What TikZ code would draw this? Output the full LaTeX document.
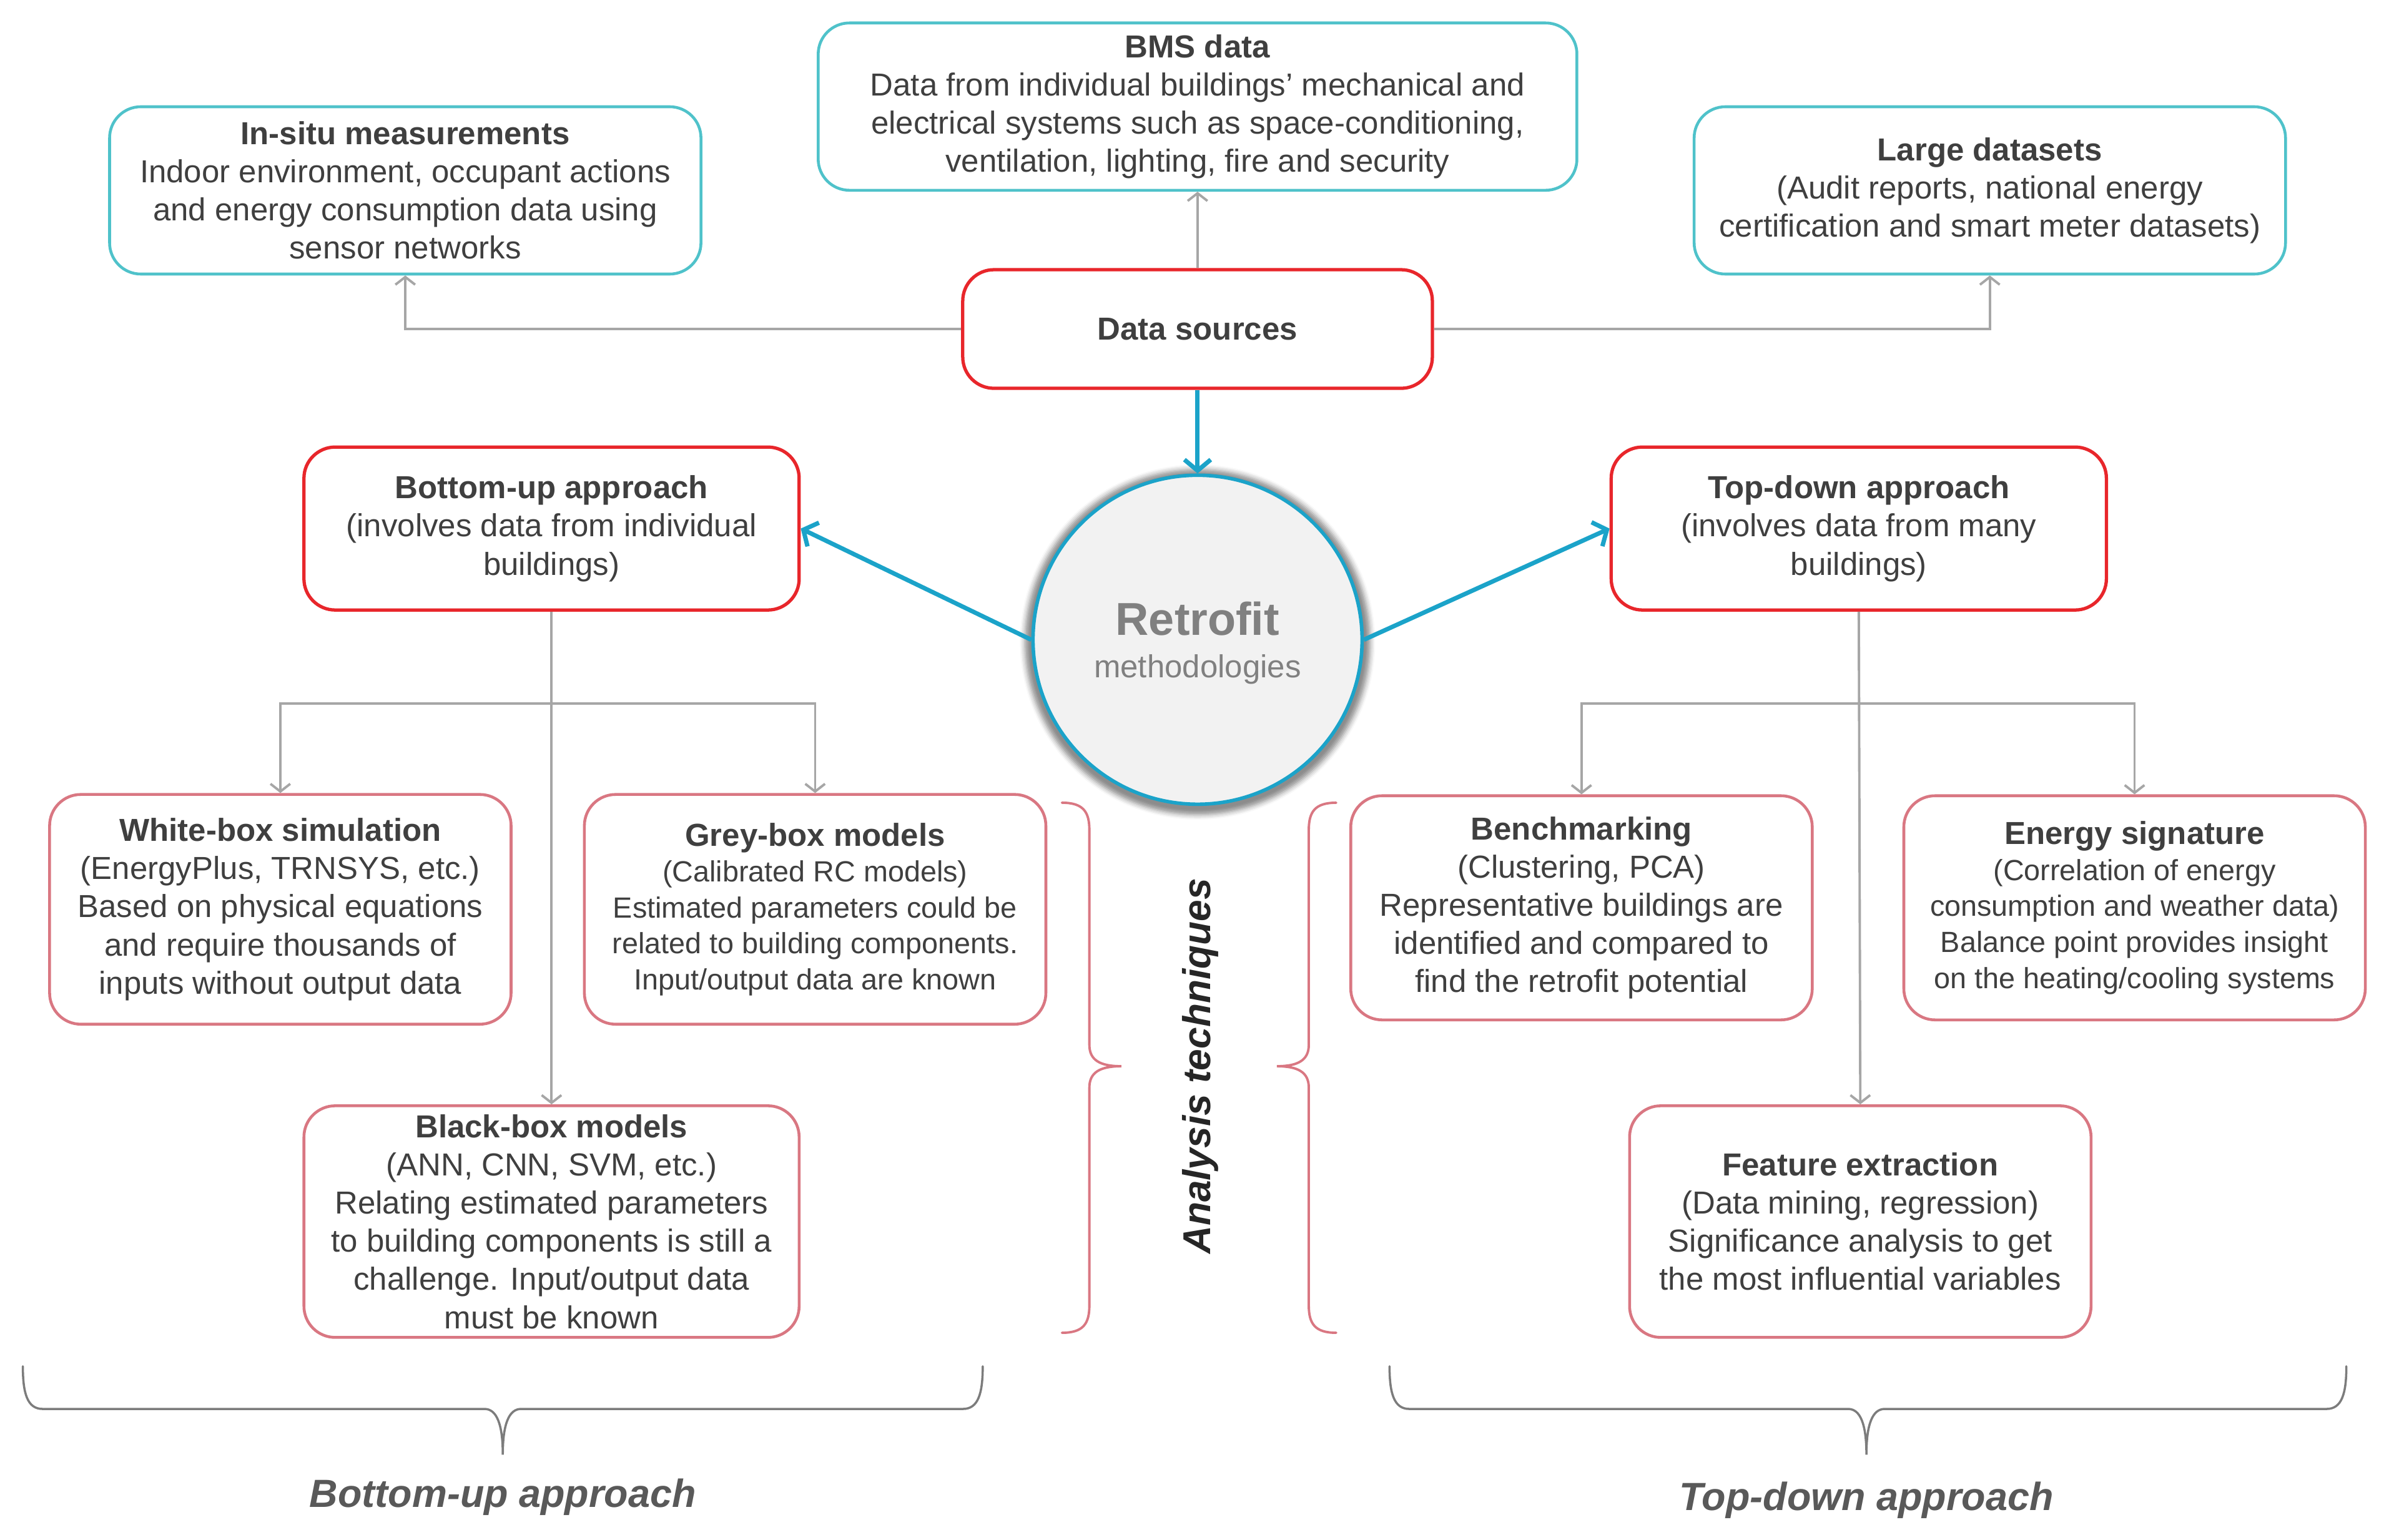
\documentclass[tikz,border=0pt]{standalone}
\usepackage{fontspec}
\setmainfont{Liberation Sans}
\usepackage{tikz}
\usetikzlibrary{arrows.meta}
\usetikzlibrary{shadows.blur}
\definecolor{srccolor}{HTML}{4FC2CA}
\definecolor{appcolor}{HTML}{E8262B}
\definecolor{techcolor}{HTML}{D97782}
\definecolor{flowcolor}{HTML}{1BA3C9}
\definecolor{linkcolor}{HTML}{A6A6A6}
\definecolor{txtcolor}{HTML}{3F3F3F}
\definecolor{circcolor}{HTML}{F2F2F2}
\definecolor{retrocolor}{HTML}{808080}
\definecolor{sidecolor}{HTML}{595959}
\newcommand{\ttl}[1]{{\fontsize{14.5}{17.4}\selectfont\textbf{#1}}}

\tikzset{
  box/.style={rounded corners=0.5cm, line width=1.3pt, fill=white, align=center,
    text=txtcolor, inner sep=2pt, font=\fontsize{14.5}{17.4}\selectfont},
  srcbox/.style={box, draw=srccolor},
  appbox/.style={box, draw=appcolor, line width=1.5pt},
  techbox/.style={box, draw=techcolor},
  smallbox/.style={techbox, font=\fontsize{13.3}{16.4}\selectfont},
  link/.style={draw=linkcolor, line width=1.1pt, -{Straight Barb[length=3.5pt,width=9pt]}},
  flow/.style={draw=flowcolor, line width=2pt, -{Straight Barb[length=5pt,width=12pt]}},
  bracket/.style={line width=1.1pt, line cap=round},
}

\begin{document}
\begin{tikzpicture}[x=0.0244cm,y=-0.0244cm]
\useasboundingbox (0,0) rectangle (1568,1011);

%% data sources
\node[appbox, minimum width=7.52cm, minimum height=1.9cm] (ds) at (786,216) {\textbf{Data sources}};
\node[srcbox, minimum width=9.47cm, minimum height=2.68cm] (insitu) at (266,125)
  {\textbf{In-situ measurements}\\Indoor environment, occupant actions\\and energy consumption data using\\sensor networks};
\node[srcbox, minimum width=12.15cm, minimum height=2.68cm] (bms) at (786,70)
  {\textbf{BMS data}\\Data from individual buildings' mechanical and\\electrical systems such as space-conditioning,\\ventilation, lighting, fire and security};
\node[srcbox, minimum width=9.47cm, minimum height=2.68cm] (large) at (1306,125)
  {\textbf{Large datasets}\\(Audit reports, national energy\\certification and smart meter datasets)};

%% centre
\node[circle, minimum size=5.27cm, draw=flowcolor, line width=1.6pt, fill=circcolor,
  blur shadow={shadow xshift=0pt, shadow yshift=-1pt, shadow scale=1.05, shadow opacity=45},
  align=center, text=retrocolor, text depth=-4pt, font=\fontsize{14.5}{19.5}\selectfont] (retro) at (786,420)
  {{\fontsize{21}{19}\selectfont\textbf{Retrofit}}\\methodologies};

%% approaches
\node[appbox, minimum width=7.93cm, minimum height=2.61cm] (bu) at (362,347)
  {\textbf{Bottom-up approach}\\(involves data from individual\\buildings)};
\node[appbox, minimum width=7.93cm, minimum height=2.61cm] (td) at (1220,347)
  {\textbf{Top-down approach}\\(involves data from many\\buildings)};

%% techniques
\node[techbox, minimum width=7.39cm, minimum height=3.68cm] (white) at (184,597)
  {\textbf{White-box simulation}\\(EnergyPlus, TRNSYS, etc.)\\Based on physical equations\\and require thousands of\\inputs without output data};
\node[smallbox, minimum width=7.39cm, minimum height=3.68cm] (grey) at (535,597)
  {\ttl{Grey-box models}\\(Calibrated RC models)\\Estimated parameters could be\\related to building components.\\Input/output data are known};
\node[techbox, minimum width=7.93cm, minimum height=3.71cm] (black) at (362,802)
  {\textbf{Black-box models}\\(ANN, CNN, SVM, etc.)\\Relating estimated parameters\\to building components is still a\\challenge. Input/output data\\must be known};
\node[techbox, minimum width=7.39cm, minimum height=3.59cm] (bench) at (1038,596)
  {\textbf{Benchmarking}\\(Clustering, PCA)\\Representative buildings are\\identified and compared to\\find the retrofit potential};
\node[smallbox, minimum width=7.39cm, minimum height=3.59cm] (esig) at (1401,596)
  {\ttl{Energy signature}\\(Correlation of energy\\consumption and weather data)\\Balance point provides insight\\on the heating/cooling systems};
\node[techbox, minimum width=7.39cm, minimum height=3.71cm] (feat) at (1221,802)
  {\textbf{Feature extraction}\\(Data mining, regression)\\Significance analysis to get\\the most influential variables};

%% connectors
\draw[link] (ds.west) -| (insitu.south);
\draw[link] (ds.north) -- (bms.south);
\draw[link] (ds.east) -| (large.south);
\draw[flow] (ds.south) -- (retro.north);
\draw[flow] (retro.west) -- (bu.east);
\draw[flow] (retro.east) -- (td.west);

\coordinate (busplit) at (bu.south |- 0,462);
\coordinate (tdsplit) at (td.south |- 0,462);
\draw[link] (bu.south) -- (black.north);
\draw[link] (td.south) -- (feat.north);
\foreach \t in {white,grey}
  \draw[link] (busplit) -| (\t.north);
\foreach \t in {bench,esig}
  \draw[link] (tdsplit) -| (\t.north);

%% braces round the analysis techniques
\draw[bracket, techcolor] (697,527) .. controls (711,527) and (715,533) .. (715,545) -- (715,686)
  .. controls (715,696) and (722,700) .. (736,700) .. controls (722,700) and (715,704) .. (715,714)
  -- (715,857) .. controls (715,869) and (711,875) .. (697,875);
\draw[bracket, techcolor] (877,527) .. controls (863,527) and (859,533) .. (859,545) -- (859,686)
  .. controls (859,696) and (852,700) .. (838,700) .. controls (852,700) and (859,704) .. (859,714)
  -- (859,857) .. controls (859,869) and (863,875) .. (877,875);
\node[rotate=90, text=black!85, font=\fontsize{17.7}{20}\selectfont\bfseries\itshape] (anal) at (788,700) {Analysis techniques};

%% braces under the two approaches
\foreach \a/\m/\b in {15/330/645, 912/1225/1540}
  \draw[bracket, linkcolor!75!black, line width=1pt] (\a,897) .. controls (\a,915) and (\a+3,925) .. (\a+13,925)
    -- (\m-12,925) .. controls (\m-4,925) and (\m,935) .. (\m,955) .. controls (\m,935) and (\m+4,925) .. (\m+12,925)
    -- (\b-13,925) .. controls (\b-3,925) and (\b,915) .. (\b,897);
\node[text=sidecolor, font=\fontsize{17.9}{20}\selectfont\bfseries\itshape] (bulabel) at (330,983) {Bottom-up approach};
\node[text=sidecolor, font=\fontsize{17.9}{20}\selectfont\bfseries\itshape] (tdlabel) at (1225,985) {Top-down approach};
\end{tikzpicture}
\end{document}
